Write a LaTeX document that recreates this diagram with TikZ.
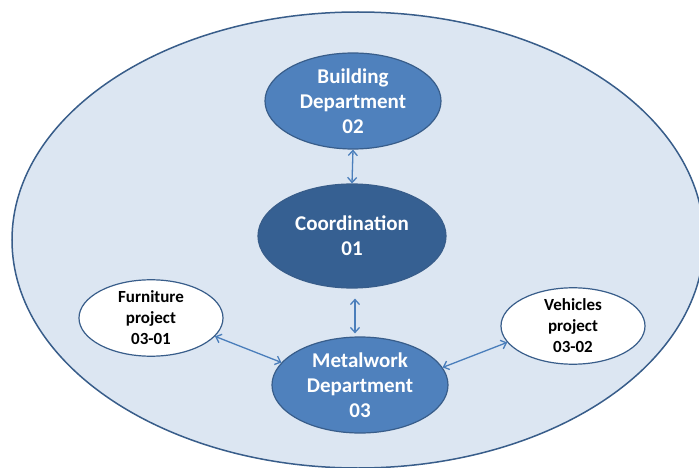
\documentclass[tikz,border=0pt]{standalone}
\usepackage{fontspec}
\setmainfont{Carlito}
\usetikzlibrary{shapes.geometric,arrows.meta}
\definecolor{bgfill}{RGB}{220,230,242}
\definecolor{edge}{RGB}{56,93,138}
\definecolor{midblue}{RGB}{79,129,189}
\definecolor{darkblue}{RGB}{54,96,146}
\definecolor{arrowc}{RGB}{74,126,187}
\tikzset{
  dept/.style={ellipse, draw=edge, line width=1.2pt, fill=midblue, text=white,
    font=\fontsize{21}{25}\selectfont\bfseries, align=center, inner sep=0pt,
    minimum width=176pt, minimum height=96pt},
  coord/.style={dept, fill=darkblue, minimum width=188pt, minimum height=104pt},
  proj/.style={ellipse, draw=edge, line width=1.2pt, fill=white, text=black,
    font=\fontsize{17}{21}\selectfont\bfseries, align=center, inner sep=0pt,
    minimum width=144pt, minimum height=72pt},
  link/.style={draw=arrowc, line width=1.3pt, {Straight Barb[length=5pt,width=9pt]}-{Straight Barb[length=5pt,width=9pt]}}
}
\begin{document}
\begin{tikzpicture}[x=1pt,y=-1pt]
\useasboundingbox (0,0) rectangle (699,468);
\fill[white] (0,0) rectangle (699,468);
\begin{scope}
\clip (0,0) rectangle (699,468);
\draw[draw=edge, line width=1.5pt, fill=bgfill] (358,240) ellipse [x radius=346, y radius=228];
\end{scope}
\node[dept] (b) at (353,101) {Building\\Department\\02};
\node[coord] (c) at (352,236) {Coordination\\01};
\node[dept] (m) at (360,385) {Metalwork\\Department\\03};
\node[proj] (f) at (151,318) {Furniture\\project\\03-01};
\node[proj] (v) at (573,326) {Vehicles\\project\\03-02};
\coordinate (axis) at (355,0);
\draw[link] (b.south) -- (c.north);
\draw[link, shorten <=10pt, shorten >=3pt] (c.south -| axis) -- (m.north -| axis);
\draw[link] (f.-16) -- (m.164);
\draw[link] (m.12) -- (v.194);
\end{tikzpicture}
\end{document}
